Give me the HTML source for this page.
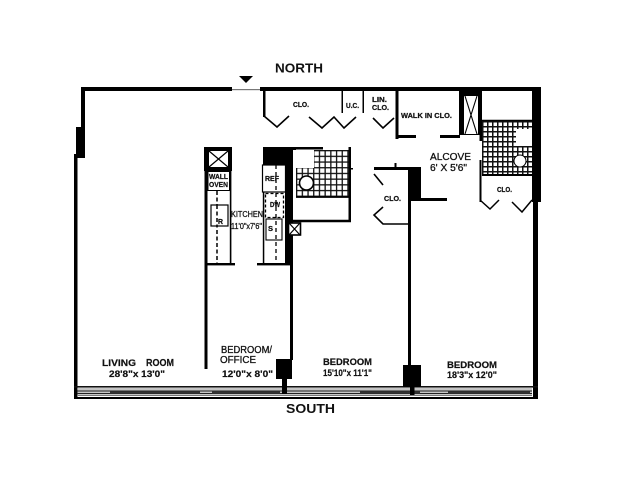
<!DOCTYPE html>
<html>
<head>
<meta charset="utf-8">
<style>
html,body{margin:0;padding:0;background:#fff;width:640px;height:480px;overflow:hidden}
svg{display:block}
text{font-family:"Liberation Sans",sans-serif;font-weight:bold;fill:#111}
.s{font-size:7.5px;stroke:#111;stroke-width:.25}
.m{font-size:9.5px;stroke:#111;stroke-width:.2}
.n{font-weight:400;stroke:#111;stroke-width:.3}
</style>
</head>
<body>
<svg width="640" height="480" viewBox="0 0 640 480" xmlns="http://www.w3.org/2000/svg">
<defs>
<pattern id="t" x="296" y="150" width="5.7" height="5.7" patternUnits="userSpaceOnUse">
<rect width="5.7" height="5.7" fill="#fff"/>
<rect width="5.7" height="1.3" fill="#111"/>
<rect width="1.3" height="5.7" fill="#111"/>
</pattern>
<pattern id="u" x="482" y="121" width="5" height="5" patternUnits="userSpaceOnUse">
<rect width="5" height="5" fill="#fff"/>
<rect width="5" height="1.5" fill="#111"/>
<rect width="1.5" height="5" fill="#111"/>
</pattern>
</defs>
<rect width="640" height="480" fill="#fff"/>

<!-- outer walls -->
<g fill="#000">
<rect x="81" y="87" width="151" height="4"/>
<rect x="232" y="89" width="28" height="1.2" fill="#777"/>
<rect x="260" y="87" width="281" height="4"/>
<rect x="81" y="87" width="4" height="42"/>
<rect x="76" y="127" width="9" height="31"/>
<rect x="74" y="154" width="3.5" height="244"/>
<rect x="532" y="87" width="9" height="115"/>
<rect x="533" y="202" width="5" height="196"/>
</g>

<!-- south window band -->
<rect x="74" y="386" width="464" height="1.600" fill="#111"/>
<rect x="74" y="397" width="464" height="2" fill="#000"/>
<g fill="none">
<path d="M77 389H532" stroke="#888" stroke-width="1"/>
<path d="M77 391H532" stroke="#222" stroke-width="1.200"/>
<path d="M77 393.500H532" stroke="#222" stroke-width="1.400"/>
<path d="M77 395.500H532" stroke="#777" stroke-width="1"/>
<path d="M110 392.500H200M212 392.500H280M360 392.500H420M448 392.500H530" stroke="#333" stroke-width="2.400"/>
</g>

<!-- living / kitchen left wall -->
<g fill="#000">
<rect x="204.500" y="147" width="3" height="222"/>
<rect x="204" y="147" width="28" height="24"/>
<rect x="207" y="263" width="28" height="2.400"/>
<rect x="257" y="263" width="33" height="2.400"/>
<rect x="229.800" y="171" width="1.600" height="92"/>
</g>
<rect x="209" y="151" width="19" height="16" fill="#fff"/>
<path d="M209 151L228 167M228 151L209 167" stroke="#000" stroke-width="1.200"/>
<rect x="208" y="171.500" width="21.500" height="19" fill="#fff" stroke="#000" stroke-width="1"/>
<path d="M217 191V263" stroke="#000" stroke-width="1.500" stroke-dasharray="4 2.500"/>
<rect x="211" y="205" width="17" height="21" fill="#fff" stroke="#000" stroke-width="1.200"/>
<path d="M217 205V226" stroke="#000" stroke-width="1.500" stroke-dasharray="4 2.500"/>

<!-- kitchen right block -->
<g fill="#000">
<rect x="263" y="147" width="33" height="18"/>
<rect x="285" y="147" width="8" height="117"/>
<rect x="290" y="263" width="3" height="97"/>
<rect x="276" y="359" width="16" height="20"/>
<rect x="282" y="379" width="5" height="15"/>
<rect x="262.800" y="165" width="1.500" height="98"/>
</g>
<rect x="262.500" y="165" width="23" height="27" fill="#fff" stroke="#000" stroke-width="1.200"/>
<rect x="265.500" y="193.500" width="18" height="24" fill="#fff" stroke="#000" stroke-width="1.300" stroke-dasharray="3 2"/>
<rect x="266" y="219" width="16" height="21" fill="#fff" stroke="#000" stroke-width="1.100"/>
<path d="M276 165V263" stroke="#000" stroke-width="1.300" stroke-dasharray="4 3"/>
<rect x="288.500" y="223" width="12" height="12" fill="#fff" stroke="#000" stroke-width="1.600"/>
<path d="M289 223L300 235M300 223L289 235" stroke="#000" stroke-width="1.200"/>

<!-- bath 1 -->
<rect x="293" y="150" width="56" height="47" fill="#fff"/>
<rect x="296" y="150" width="53" height="47" fill="url(#t)"/>
<rect x="296" y="150" width="18" height="18" fill="#fff"/>
<rect x="293" y="147" width="30" height="2.500" fill="#000"/>
<circle cx="306.500" cy="183" r="7" fill="#fff" stroke="#000" stroke-width="1.600"/>
<path d="M296 197H349" stroke="#000" stroke-width="1.700"/>
<path d="M293 221H351" stroke="#000" stroke-width="2.600"/>
<rect x="348.500" y="147" width="2.500" height="75" fill="#000"/>
<rect x="351" y="168" width="2" height="1.500" fill="#000"/>

<!-- north closets -->
<g fill="#000">
<rect x="263" y="90" width="2.500" height="27"/>
<rect x="341.500" y="90" width="1.500" height="23"/>
<rect x="362.500" y="90" width="1.500" height="23"/>
<rect x="395.500" y="90" width="3" height="49"/>
<rect x="395.500" y="135" width="20.500" height="3"/>
<rect x="440" y="135" width="20" height="3"/>
<rect x="459" y="90" width="23" height="45"/>
<rect x="479.500" y="90" width="2.500" height="51"/>
</g>
<rect x="464" y="96" width="14" height="38" fill="#fff"/>
<path d="M465 96L477 134M477 96L465 134" stroke="#000" stroke-width="1.100"/>
<g fill="none" stroke="#000" stroke-width="1.600">
<path d="M264 116L277 127L289 116"/>
<path d="M309 117L322 128L334 117L344 128L356 117"/>
<path d="M373 118L383 128L394 118"/>
</g>

<!-- bath 2 -->
<rect x="482" y="121" width="50" height="54" fill="url(#u)"/>
<path d="M482 120.500H532" stroke="#000" stroke-width="1.500"/>
<path d="M482 175H532" stroke="#000" stroke-width="2"/>
<rect x="516" y="129" width="16" height="17" fill="#fff"/>
<circle cx="520" cy="161" r="6" fill="#fff" stroke="#000" stroke-width="1"/>
<rect x="479.500" y="160" width="2" height="42" fill="#000"/>
<g fill="none" stroke="#000" stroke-width="1.500">
<path d="M480 200L490 209L499 200"/>
<path d="M512 202L522 212L532 200"/>
</g>

<!-- center closet -->
<g fill="#000">
<rect x="374" y="167" width="47" height="3"/>
<rect x="394.500" y="163" width="2" height="5"/>
<rect x="408" y="167" width="13" height="33"/>
<rect x="408" y="198" width="39" height="3"/>
<rect x="408" y="200" width="3" height="166"/>
<rect x="403" y="365" width="18" height="22"/>
<rect x="410" y="387" width="4.500" height="8"/>
</g>
<g fill="none" stroke="#000" stroke-width="1.600">
<path d="M374 174L383 185"/>
<path d="M383 207L374 215L383 224L408 224"/>
</g>

<!-- entry arrow -->
<path d="M239 76H253L246 83Z" fill="#000"/>

<!-- labels -->
<text x="275" y="72.500" font-size="13" textLength="48" lengthAdjust="spacingAndGlyphs">NORTH</text>
<text x="286" y="413" font-size="13" textLength="49" lengthAdjust="spacingAndGlyphs">SOUTH</text>

<text class="s" x="293" y="107" textLength="16" lengthAdjust="spacingAndGlyphs">CLO.</text>
<text class="s" x="346" y="108" textLength="13" lengthAdjust="spacingAndGlyphs">U.C.</text>
<text class="s" x="372" y="102" textLength="15" lengthAdjust="spacingAndGlyphs">LIN.</text>
<text class="s" x="372" y="110" textLength="17" lengthAdjust="spacingAndGlyphs">CLO.</text>
<text class="s" x="401" y="118" textLength="51" lengthAdjust="spacingAndGlyphs">WALK IN CLO.</text>
<text class="s" x="384" y="201" textLength="17" lengthAdjust="spacingAndGlyphs">CLO.</text>
<text class="s" x="497" y="192" textLength="15" lengthAdjust="spacingAndGlyphs">CLO.</text>
<text class="s" x="209" y="179" textLength="19" lengthAdjust="spacingAndGlyphs">WALL</text>
<text class="s" x="209" y="187" textLength="19" lengthAdjust="spacingAndGlyphs">OVEN</text>
<text class="s" x="265" y="181" textLength="14" lengthAdjust="spacingAndGlyphs">REF</text>
<text class="s" x="270" y="207" textLength="10" lengthAdjust="spacingAndGlyphs">DW</text>
<text class="s" x="218" y="224" textLength="5" lengthAdjust="spacingAndGlyphs">R</text>
<text class="s" x="268" y="231" textLength="5" lengthAdjust="spacingAndGlyphs">S</text>

<text class="n" x="231" y="217" font-size="8.500" textLength="32" lengthAdjust="spacingAndGlyphs">KITCHEN</text>
<text class="n" x="231" y="229" font-size="8.500" textLength="31" lengthAdjust="spacingAndGlyphs">11'0"x7'6"</text>

<text class="n" x="430" y="160" font-size="10.500" textLength="41" lengthAdjust="spacingAndGlyphs">ALCOVE</text>
<text class="n" x="430" y="171" font-size="10.500" textLength="37" lengthAdjust="spacingAndGlyphs">6' X 5'6"</text>

<text class="m" x="102" y="366" textLength="34" lengthAdjust="spacingAndGlyphs">LIVING</text>
<text class="m" x="146" y="366" textLength="28" lengthAdjust="spacingAndGlyphs" style="font-size:10.500px">ROOM</text>
<text class="m" x="109" y="377" textLength="56" lengthAdjust="spacingAndGlyphs">28'8"x 13'0"</text>
<text class="n" x="221" y="353" font-size="10" textLength="51" lengthAdjust="spacingAndGlyphs">BEDROOM/</text>
<text class="n" x="220" y="363" font-size="10" textLength="36" lengthAdjust="spacingAndGlyphs">OFFICE</text>
<text class="m" x="222" y="377" textLength="51" lengthAdjust="spacingAndGlyphs">12'0"x 8'0"</text>
<text class="m" x="323" y="365" textLength="49" lengthAdjust="spacingAndGlyphs">BEDROOM</text>
<text class="m" x="323" y="376" textLength="49" lengthAdjust="spacingAndGlyphs">15'10"x 11'1"</text>
<text class="m" x="447" y="368" textLength="50" lengthAdjust="spacingAndGlyphs">BEDROOM</text>
<text class="m" x="447" y="378" textLength="50" lengthAdjust="spacingAndGlyphs">18'3"x 12'0"</text>
</svg>
</body>
</html>
